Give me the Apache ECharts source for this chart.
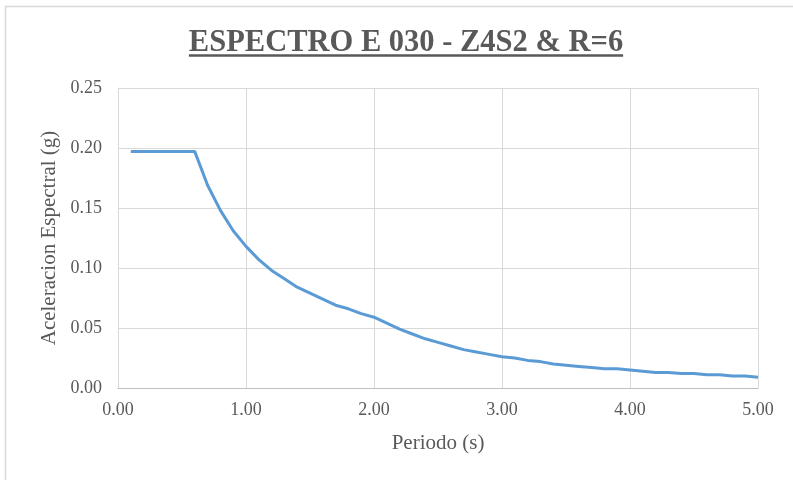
<!DOCTYPE html>
<html>
<head>
<meta charset="utf-8">
<script src="https://cdn.jsdelivr.net/npm/echarts@6/dist/echarts.min.js"></script>
<style>
  html, body { margin: 0; padding: 0; background: #fff; }
  #chart { width: 793px; height: 480px; }
</style>
</head>
<body>
<div id="chart"></div>
<script>
// Periodo T (s)
const periods = [
  0.1, 0.2, 0.3, 0.4, 0.5, 0.6, 0.7, 0.8, 0.9, 1.0,
  1.1, 1.2, 1.3, 1.4, 1.5, 1.6, 1.7, 1.8, 1.9, 2.0,
  2.1, 2.2, 2.3, 2.4, 2.5, 2.6, 2.7, 2.8, 2.9, 3.0,
  3.1, 3.2, 3.3, 3.4, 3.5, 3.6, 3.7, 3.8, 3.9, 4.0,
  4.1, 4.2, 4.3, 4.4, 4.5, 4.6, 4.7, 4.8, 4.9, 5.0
];
// Aceleracion espectral Sa (g)
const spectralAcc = [
  0.197, 0.197, 0.197, 0.197, 0.197, 0.197, 0.169, 0.148, 0.131, 0.118,
  0.107, 0.098, 0.091, 0.084, 0.079, 0.074, 0.069, 0.066, 0.062, 0.059,
  0.054, 0.049, 0.045, 0.041, 0.038, 0.035, 0.032, 0.030, 0.028, 0.026,
  0.025, 0.023, 0.022, 0.020, 0.019, 0.018, 0.017, 0.016, 0.016, 0.015,
  0.014, 0.013, 0.013, 0.012, 0.012, 0.011, 0.011, 0.010, 0.010, 0.009
];

const titleText = 'ESPECTRO E 030 - Z4S2 & R=6';
const xAxisName = 'Periodo (s)';
const yAxisName = 'Aceleracion Espectral (g)';

const serif = '"Liberation Serif", "Times New Roman", serif';
const grey = '#595959';
const gridGrey = '#d9d9d9';

// measure the title so its underline spans the text
const titleFont = 'bold 30.5px ' + serif;
const ctx = document.createElement('canvas').getContext('2d');
ctx.font = titleFont;
const titleW = ctx.measureText(titleText).width;
const titleCx = 406;

const chart = echarts.init(document.getElementById('chart'), null, { renderer: 'canvas' });

chart.setOption({
  animation: false,
  backgroundColor: '#fff',
  grid: { left: 118, right: 35, top: 88, bottom: 92, containLabel: false },
  xAxis: {
    type: 'value',
    min: 0, max: 5, interval: 1,
    name: xAxisName,
    nameLocation: 'middle',
    nameGap: 45,
    nameTextStyle: { fontFamily: serif, fontSize: 21, color: grey },
    axisLine: { show: true, lineStyle: { color: '#bfbfbf', width: 1 } },
    axisTick: { show: false },
    splitLine: { show: true, lineStyle: { color: gridGrey, width: 1 } },
    axisLabel: {
      fontFamily: serif, fontSize: 18, color: grey, margin: 13,
      formatter: v => v.toFixed(2)
    }
  },
  yAxis: {
    type: 'value',
    min: 0, max: 0.25, interval: 0.05,
    name: yAxisName,
    nameLocation: 'middle',
    nameGap: 58,
    nameTextStyle: { fontFamily: serif, fontSize: 21, color: grey },
    axisLine: { show: true, lineStyle: { color: gridGrey, width: 1 } },
    axisTick: { show: false },
    splitLine: { show: true, lineStyle: { color: gridGrey, width: 1 } },
    axisLabel: {
      fontFamily: serif, fontSize: 18, color: grey, margin: 16,
      formatter: v => v.toFixed(2)
    }
  },
  graphic: [
    // outer chart border
    {
      type: 'rect', silent: true, z: -1,
      shape: { x: 5.5, y: 6.5, width: 820, height: 520 },
      style: { fill: null, stroke: gridGrey, lineWidth: 1.5 }
    },
    // right edge of the plot area
    {
      type: 'line', silent: true,
      shape: { x1: 758.5, y1: 88, x2: 758.5, y2: 388 },
      style: { stroke: gridGrey, lineWidth: 1 }
    },
    {
      type: 'text', silent: true,
      x: titleCx, y: 43,
      style: {
        text: titleText, font: titleFont, fill: grey,
        align: 'center', verticalAlign: 'middle'
      }
    },
    {
      type: 'line', silent: true,
      shape: { x1: titleCx - titleW / 2, y1: 55.5, x2: titleCx + titleW / 2, y2: 55.5 },
      style: { stroke: grey, lineWidth: 2.5 }
    }
  ],
  series: [{
    type: 'line',
    data: periods.map((t, i) => [t, spectralAcc[i]]),
    showSymbol: false,
    smooth: false,
    lineStyle: { color: '#5b9bd5', width: 3 },
    itemStyle: { color: '#5b9bd5' }
  }]
});
</script>
</body>
</html>
